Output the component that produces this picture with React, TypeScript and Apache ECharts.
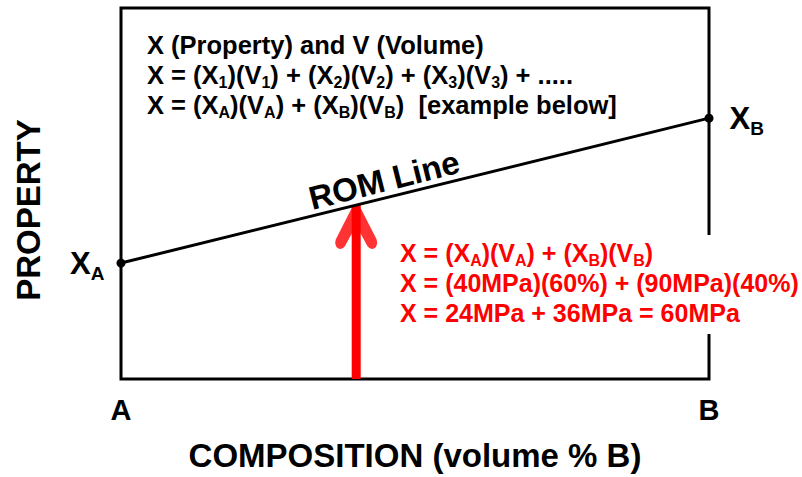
import React, { useEffect, useRef } from "react";
import * as echarts from "echarts";

// ---- data ----
const compositionPct = [0, 100]; // volume % B
const propertyMPa = [40, 90]; // X_A, X_B
const endpointNames = ["A", "B"];
const examplePoint = [40, 60]; // 40% B -> 60 MPa
const xTickLabels: Record<number, string> = { 0: "A", 100: "B" };

const topLines = [
  "X (Property) and V (Volume)",
  "X = (X{s|1})(V{s|1}) + (X{s|2})(V{s|2}) + (X{s|3})(V{s|3}) + .....",
  "X = (X{s|A})(V{s|A}) + (X{s|B})(V{s|B})  [example below]",
];
const redLines = [
  "X = (X{s|A})(V{s|A}) + (X{s|B})(V{s|B})",
  "X = (40MPa)(60%) + (90MPa)(40%)",
  "X = 24MPa + 36MPa = 60MPa",
];
const xAxisTitle = "COMPOSITION (volume % B)";
const yAxisTitle = "PROPERTY";
const lineTitle = "ROM Line";

const FONT = "Liberation Sans, Arial, sans-serif";
const CHEVRON =
  "path://M17,3 Q21,-1 25,3 L41,31 Q43,36 39,39 Q35,41 32,37 L21,19 L10,37 Q7,41 3,39 Q-1,36 1,31 Z";

export default function App() {
  const ref = useRef<HTMLDivElement>(null);
  useEffect(() => {
    if (!ref.current) return;
    const chart = echarts.init(ref.current, undefined, { renderer: "svg" });
    const sub = (size: number, color: string, lh: number) => ({
      fontSize: size,
      fontWeight: "bold",
      fontFamily: FONT,
      color,
      verticalAlign: "bottom",
      lineHeight: lh,
    });
    chart.setOption({
      animation: false,
      backgroundColor: "#fff",
      grid: {
        left: 121,
        right: 93,
        top: 8,
        bottom: 95,
        show: true,
        borderColor: "#000",
        borderWidth: 3,
        backgroundColor: "transparent",
      },
      xAxis: {
        type: "value",
        min: 0,
        max: 100,
        interval: 100,
        axisLine: { show: false },
        axisTick: { show: false },
        splitLine: { show: false },
        axisLabel: {
          formatter: (v: number) => xTickLabels[v] ?? "",
          fontSize: 29,
          fontWeight: "bold",
          fontFamily: FONT,
          color: "#000",
          margin: 16,
        },
        name: xAxisTitle,
        nameLocation: "middle",
        nameGap: 60,
        nameTextStyle: {
          fontSize: 33,
          fontWeight: "bold",
          fontFamily: FONT,
          color: "#000",
        },
      },
      yAxis: {
        type: "value",
        min: 0,
        max: 128,
        axisLine: { show: false },
        axisTick: { show: false },
        splitLine: { show: false },
        axisLabel: { show: false },
      },
      series: [
        {
          type: "line",
          data: [examplePoint.map((v, i) => (i === 0 ? v : 0)), examplePoint],
          showSymbol: false,
          symbol: "none",
          lineStyle: { color: "#ff0000", width: 9, cap: "butt" },
          z: 2,
        },
        {
          type: "scatter",
          data: [examplePoint],
          symbol: CHEVRON,
          symbolSize: [42, 44],
          symbolOffset: [0, "50%"],
          itemStyle: { color: "#ff0000" },
          z: 3,
        },
        {
          type: "line",
          data: compositionPct.map((x, i) => ({
            value: [x, propertyMPa[i]],
            label: {
              show: true,
              position: i === 0 ? "left" : "right",
              distance: i === 0 ? 12 : 16,
              formatter: `{m|X}{s|${endpointNames[i]}}`,
              rich: {
                m: {
                  fontSize: 31,
                  fontWeight: "bold",
                  fontFamily: FONT,
                  color: "#000",
                  lineHeight: 40,
                },
                s: sub(19, "#000", 14),
              },
            },
          })),
          symbol: "circle",
          symbolSize: 9,
          itemStyle: { color: "#000" },
          lineStyle: { color: "#000", width: 3 },
          z: 4,
        },
      ],
      graphic: [
        {
          type: "text",
          left: 147,
          top: 30,
          z: 10,
          style: {
            text: topLines.join("\n"),
            fontSize: 25.5,
            fontWeight: "bold",
            fontFamily: FONT,
            fill: "#000",
            lineHeight: 30,
            rich: { s: sub(16, "#000", 11) },
          },
        },
        {
          type: "text",
          left: 394,
          top: 235,
          z: 10,
          style: {
            text: redLines.join("\n"),
            fontSize: 25,
            fontWeight: "bold",
            fontFamily: FONT,
            fill: "#ff0000",
            lineHeight: 30,
            backgroundColor: "#fff",
            padding: [3, 6, 6, 6],
            rich: { s: sub(16, "#ff0000", 11) },
          },
        },
        {
          type: "text",
          x: 384,
          y: 180,
          rotation: 0.246,
          z: 10,
          style: {
            text: lineTitle,
            fontSize: 33,
            fontWeight: "bold",
            fontFamily: FONT,
            fill: "#000",
            align: "center",
            verticalAlign: "middle",
          },
        },
        {
          type: "text",
          x: 28,
          y: 210,
          rotation: Math.PI / 2,
          z: 10,
          style: {
            text: yAxisTitle,
            fontSize: 33,
            fontWeight: "bold",
            fontFamily: FONT,
            fill: "#000",
            align: "center",
            verticalAlign: "middle",
          },
        },
      ],
    });
    return () => chart.dispose();
  }, []);
  return (
    <div
      ref={ref}
      style={{ position: "fixed", left: 0, top: 0, width: 802, height: 477 }}
    />
  );
}
